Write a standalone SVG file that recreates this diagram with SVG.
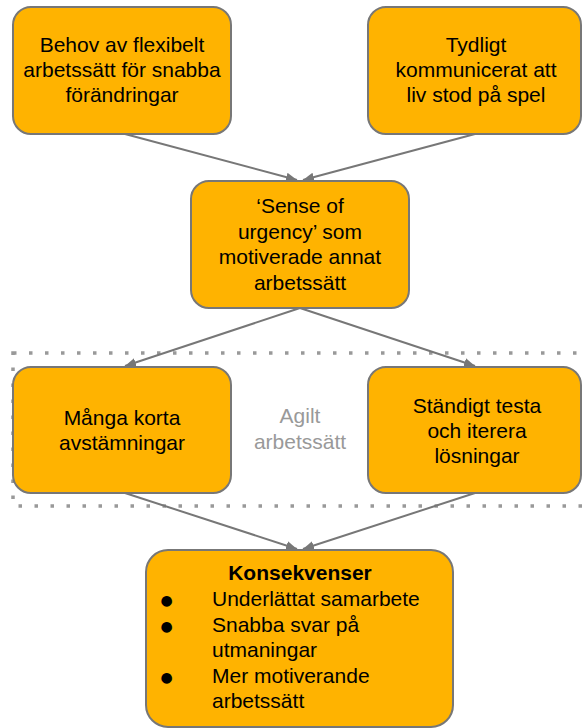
<svg xmlns="http://www.w3.org/2000/svg" width="582" height="728" viewBox="0 0 582 728">
<style>
.box{fill:#ffb300;stroke:#777777;stroke-width:2}
.t{font-family:"Liberation Sans",Arial,sans-serif;font-size:21px;fill:#000000;text-anchor:middle}
.tl{font-family:"Liberation Sans",Arial,sans-serif;font-size:21px;fill:#000000}
.b{font-family:"DejaVu Sans",sans-serif;font-size:14px;fill:#000000;text-anchor:middle}
.g{font-family:"Liberation Sans",Arial,sans-serif;font-size:21px;fill:#999999;text-anchor:middle}
.c{stroke:#777777;stroke-width:2;fill:none;marker-end:url(#ah)}
.dot{fill:none;stroke:#999999;stroke-width:3.5;stroke-dasharray:3.5 12.5}
</style>
<defs>
<marker id="ah" markerUnits="userSpaceOnUse" markerWidth="12" markerHeight="10" refX="11" refY="4.5" orient="auto">
<path d="M0,0 L11,4.5 L0,9 z" fill="#777777"/>
</marker>
</defs>
<g id="group-agilt">
<rect class="dot" x="13" y="353" width="600" height="153"/>
<text class="g" x="300" y="423">Agilt</text>
<text class="g" x="300" y="449">arbetssätt</text>
</g>
<g id="connectors">
<line class="c" x1="125" y1="134" x2="297" y2="180"/>
<line class="c" x1="475" y1="134" x2="303" y2="180"/>
<line class="c" x1="300" y1="308" x2="125" y2="366"/>
<line class="c" x1="300" y1="308" x2="475" y2="366"/>
<line class="c" x1="125" y1="493" x2="297" y2="549"/>
<line class="c" x1="475" y1="493" x2="303" y2="549"/>
</g>
<g id="node-behov">
<rect class="box" x="13" y="7" width="218" height="127" rx="18"/>
<text class="t" x="122" y="52">Behov av flexibelt</text>
<text class="t" x="122" y="77">arbetssätt för snabba</text>
<text class="t" x="122" y="102">förändringar</text>
</g>
<g id="node-tydligt">
<rect class="box" x="368" y="7" width="213" height="127" rx="18"/>
<text class="t" x="476" y="52">Tydligt</text>
<text class="t" x="476" y="77">kommunicerat att</text>
<text class="t" x="476" y="102">liv stod på spel</text>
</g>
<g id="node-sense">
<rect class="box" x="191" y="181" width="218" height="127" rx="18"/>
<text class="t" x="300" y="213">‘Sense of</text>
<text class="t" x="300" y="239">urgency’ som</text>
<text class="t" x="300" y="264">motiverade annat</text>
<text class="t" x="300" y="290">arbetssätt</text>
</g>
<g id="node-manga">
<rect class="box" x="13" y="367" width="218" height="126" rx="18"/>
<text class="t" x="122" y="425">Många korta</text>
<text class="t" x="122" y="450">avstämningar</text>
</g>
<g id="node-standigt">
<rect class="box" x="368" y="367" width="213" height="126" rx="18"/>
<text class="t" x="477" y="413">Ständigt testa</text>
<text class="t" x="477" y="438">och iterera</text>
<text class="t" x="477" y="463">lösningar</text>
</g>
<g id="node-konsekvenser">
<rect class="box" x="146" y="550" width="307" height="177" rx="22"/>
<text class="t" x="300" y="580" font-weight="bold">Konsekvenser</text>
<text class="b" x="166.5" y="605">●</text>
<text class="tl" x="212" y="606">Underlättat samarbete</text>
<text class="b" x="166.5" y="631">●</text>
<text class="tl" x="212" y="632">Snabba svar på</text>
<text class="tl" x="212" y="657">utmaningar</text>
<text class="b" x="166.5" y="682">●</text>
<text class="tl" x="212" y="683">Mer motiverande</text>
<text class="tl" x="212" y="708">arbetssätt</text>
</g>
</svg>
